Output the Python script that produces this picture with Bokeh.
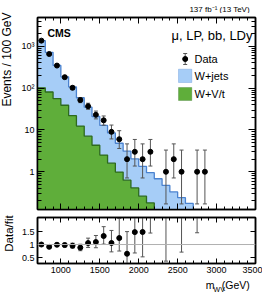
import math
from bokeh.plotting import figure
from bokeh.layouts import column, row
from bokeh.models import (FixedTicker, LinearAxis, LogAxis, Label, BoxAnnotation, Span, Range1d,
                          CustomLabelingPolicy)
from bokeh.embed import file_html
from bokeh.resources import INLINE

# ---------------- data ----------------
bin_lo = [700, 800, 900, 1000, 1100, 1200, 1300, 1400, 1500, 1600, 1700,
          1800, 1900, 2000, 2100, 2200, 2300, 2400, 2500, 2600, 2700, 2800]
bin_width = 100
data_counts = [1370, 656, 347, 183, 102, 52, 37, 23, 17, 9, 6,
               2, 3, 2, 3, 0, 1, 2, 1, 0, 1, 1]
data_err_lo = [36.5, 25.1, 18.1, 13.0, 9.6, 7.0, 5.9, 4.6, 4.0, 2.9, 2.4,
               1.29, 1.63, 1.29, 1.63, 0.0, 0.83, 1.29, 0.83, 0.0, 0.83, 0.83]
data_err_hi = [37.5, 26.1, 19.1, 14.0, 10.6, 7.7, 6.6, 5.3, 4.6, 4.1, 3.6,
               2.64, 2.92, 2.64, 2.92, 0.0, 2.30, 2.64, 2.30, 0.0, 2.30, 2.30]
fit_total = [1370, 720, 350, 187, 107, 59, 35, 21, 12.8, 8.5, 4.8,
             3.1, 2.03, 1.35, 0.95, 0.68, 0.47, 0.33, 0.24, 0.175, 0.117, 0.08]
fit_wvt = [102, 81, 56, 39, 22, 12.4, 7.1, 4.3, 2.5, 1.6, 0.98,
           0.63, 0.41, 0.26, 0.18, 0.11, 0.07, 0.045, 0.03, 0.02, 0.013, 0.009]

x_ticks = [1000, 1500, 2000, 2500, 3000, 3500]
y_ticks = [1, 10, 100, 1000]
y_tick_labels = {1: "1", 10: "10", 100: "10\u00b2", 1000: "10\u00b3"}
r_ticks = [0.5, 1, 1.5]
r_tick_labels = {0.5: "0.5", 1: "1", 1.5: "1.5"}

# ---------------- style ----------------
FONT = "Liberation Sans"
BLUE = "#a6cdf7"
BLUE_LINE = "#4a82cf"
GREEN = "#5fae3a"
GREEN_LINE = "#2d6a1e"
ERR = "#555555"

X0, X1 = 700, 3500
Y0, Y1 = 0.125, 4900
R0, R1 = 0.27, 2.04
FL, FR, FT, FB = 37, 255, 15, 207   # top frame (page px)
BT, BB = 213, 259                   # ratio frame (page px)
LW = 15                             # left text strip width
TH = 13                             # top text strip height
BOT_BORDER = 15                     # space under the ratio frame for tick labels
PAGE_H = 300

bin_hi = [b + bin_width for b in bin_lo]
centers = [b + bin_width / 2 for b in bin_lo]
edges = bin_lo + [bin_hi[-1]]

x_minor = list(range(700, 3501, 100))
y_minor = [k * 10.0 ** e for e in range(-1, 4) for k in range(2, 10) if k * 10.0 ** e < Y1]

NO_LABELS = CustomLabelingPolicy(code="""
for (const i of indices) { indices.unset(i) }
return indices
""")


def style_axis(ax, labels, tick_in, minor_in, size="9px"):
    ax.major_tick_in = tick_in
    ax.major_tick_out = 0
    ax.minor_tick_in = minor_in
    ax.minor_tick_out = 0
    ax.axis_line_color = "black"
    ax.axis_line_width = 1.5
    ax.major_tick_line_color = "black"
    ax.minor_tick_line_color = "black"
    if labels:
        ax.major_label_text_font = FONT
        ax.major_label_text_font_size = size
        ax.major_label_text_color = "black"
    else:
        ax.major_label_text_font_size = "1px"
        ax.major_label_standoff = 0
        ax.major_label_policy = NO_LABELS


def strip(w, h):
    f = figure(width=w, height=h, x_range=Range1d(0, w), y_range=Range1d(0, h),
               title=None, min_border=0, x_axis_location=None, y_axis_location=None,
               output_backend="svg", toolbar_location=None)
    f.grid.visible = False
    f.outline_line_color = None
    return f


def strip_text(f, text, x, y, size, align="left", baseline="middle", angle=0.0):
    f.add_layout(Label(x=x, y=y, text=text, text_font=FONT, text_font_size=size,
                       text_align=align, text_baseline=baseline, angle=angle,
                       text_color="black"))


def add_text(fig, fl, fb, text, X, Y, size, align="left", baseline="middle",
             angle=0.0, style="normal"):
    fig.add_layout(Label(x=X - fl, y=fb - Y, x_units="screen", y_units="screen",
                         text=text, text_font=FONT, text_font_size=size,
                         text_align=align, text_baseline=baseline, angle=angle,
                         text_font_style=style, text_color="black"))


# ---------------- top panel ----------------
top = figure(frame_width=FR - FL, frame_height=FB - FT,
             x_range=Range1d(X0, X1), y_range=Range1d(Y0, Y1),
             y_axis_type="log", x_axis_location=None, title=None,
             min_border_left=FL - LW, min_border_right=7, min_border_top=FT - TH,
             min_border_bottom=BT - FB - 3,
             output_backend="svg", toolbar_location=None)
top.grid.visible = False
top.outline_line_color = "black"
top.outline_line_width = 1.5

yt = FixedTicker(ticks=y_ticks, minor_ticks=y_minor)
ax = top.yaxis[0]
ax.ticker = yt
ax.major_label_overrides = y_tick_labels
ax.major_label_standoff = 3
style_axis(ax, True, 7, 4)
ax_r = LogAxis(ticker=yt)
style_axis(ax_r, False, 7, 4)
top.add_layout(ax_r, "right")
xt = FixedTicker(ticks=x_ticks, minor_ticks=x_minor)
for loc in ("below", "above"):
    a = LinearAxis(ticker=xt)
    style_axis(a, False, 6, 3)
    top.add_layout(a, loc)

floor = [1e-3] * len(edges)
top.varea_step(x=edges, y1=floor, y2=fit_total + [fit_total[-1]], step_mode="after",
               fill_color=BLUE)
top.step(x=edges, y=fit_total + [fit_total[-1]], mode="after",
         line_color=BLUE_LINE, line_width=1.3)
top.varea_step(x=edges, y1=floor, y2=fit_wvt + [fit_wvt[-1]], step_mode="after",
               fill_color=GREEN)
top.step(x=edges, y=fit_wvt + [fit_wvt[-1]], mode="after",
         line_color=GREEN_LINE, line_width=1.3)

idx = [i for i, n in enumerate(data_counts) if n > 0]
dx = [centers[i] for i in idx]
dy = [data_counts[i] for i in idx]
dlo = [data_counts[i] - data_err_lo[i] for i in idx]
dhi = [data_counts[i] + data_err_hi[i] for i in idx]
top.segment(x0=dx, y0=dlo, x1=dx, y1=dhi, line_color=ERR, line_width=1)
top.scatter(x=dx + dx, y=dlo + dhi, marker="dash", size=4, line_color=ERR, line_width=1)
top.scatter(x=dx, y=dy, marker="circle", size=5, fill_color="black", line_color="black")


def px_to_x(px):
    return X0 + (px - FL) / (FR - FL) * (X1 - X0)


def py_to_y(py):
    l0, l1 = math.log10(Y0), math.log10(Y1)
    return 10 ** (l0 + (FB - py) / (FB - FT) * (l1 - l0))


# legend (layout positions in page px)
lx = px_to_x(184.7)
top.segment(x0=[lx], y0=[py_to_y(62)], x1=[lx], y1=[py_to_y(51)], line_color=ERR, line_width=1)
top.scatter(x=[lx, lx], y=[py_to_y(62), py_to_y(51)], marker="dash", size=4, line_color=ERR)
top.scatter(x=[lx], y=[py_to_y(56.5)], marker="circle", size=5, fill_color="black", line_color="black")

for (yt_, yb_, fc, lc) in ((66.7, 80, BLUE, BLUE_LINE), (85, 98, GREEN, GREEN_LINE)):
    top.add_layout(BoxAnnotation(left=178 - FL, right=191.3 - FL, top=FB - yt_, bottom=FB - yb_,
                                 left_units="screen", right_units="screen",
                                 top_units="screen", bottom_units="screen",
                                 fill_color=fc, fill_alpha=1, line_color=lc, line_width=1))

add_text(top, FL, FB, "Data", 194, 56.5, "11px")
add_text(top, FL, FB, "W+jets", 194, 73.3, "11px")
add_text(top, FL, FB, "W+V/t", 194, 91.7, "11px")
add_text(top, FL, FB, "CMS", 47, 30.5, "10.5px", style="bold")
add_text(top, FL, FB, "\u03bc, LP, bb, LDy", 252, 32.5, "13px", align="right")

# ---------------- ratio panel ----------------
bot = figure(frame_width=FR - FL, frame_height=BB - BT,
             x_range=top.x_range, y_range=Range1d(R0, R1),
             x_axis_location=None, title=None,
             min_border_left=FL - LW, min_border_right=7, min_border_top=3,
             min_border_bottom=BOT_BORDER,
             output_backend="svg", toolbar_location=None)
bot.grid.visible = False
bot.outline_line_color = "black"
bot.outline_line_width = 1.5
rt = FixedTicker(ticks=r_ticks, minor_ticks=[])
ax = bot.yaxis[0]
ax.ticker = rt
ax.major_label_overrides = r_tick_labels
ax.major_label_standoff = 3
style_axis(ax, True, 5, 0)
a = LinearAxis(ticker=rt)
style_axis(a, False, 5, 0)
bot.add_layout(a, "right")
xb = LinearAxis(ticker=xt)
style_axis(xb, True, 5, 3)
xb.major_label_standoff = 3
bot.add_layout(xb, "below")
xa = LinearAxis(ticker=xt)
style_axis(xa, False, 5, 3)
bot.add_layout(xa, "above")

bot.add_layout(Span(location=1, dimension="width", line_color="#b0b0b0", line_width=1))

rx = dx
ry = [data_counts[i] / fit_total[i] for i in idx]
rlo = [(data_counts[i] - data_err_lo[i]) / fit_total[i] for i in idx]
rhi = [(data_counts[i] + data_err_hi[i]) / fit_total[i] for i in idx]
bot.segment(x0=rx, y0=rlo, x1=rx, y1=rhi, line_color=ERR, line_width=1)
bot.scatter(x=rx + rx, y=rlo + rhi, marker="dash", size=4, line_color=ERR)
bot.scatter(x=rx, y=ry, marker="circle", size=5, fill_color="black", line_color="black")

# ---------------- text strips outside the frames ----------------
main_w = FR + 7 - LW
bot_end = BB + BOT_BORDER
BH = PAGE_H - bot_end
top_strip = strip(main_w, TH)
strip_text(top_strip, "137 fb\u207b\u00b9 (13 TeV)", 255.5 - LW, TH - 8.5, "8px", align="right")

bottom_strip = strip(main_w, BH)
strip_text(bottom_strip, "m", 205.5 - LW, BH - (280.5 - bot_end), "10.5px")
strip_text(bottom_strip, "WV", 214.5 - LW, BH - (284.5 - bot_end), "7px")
strip_text(bottom_strip, "(GeV)", 255.5 - LW, BH - (280.5 - bot_end), "10.5px", align="right")

left_strip = strip(LW, PAGE_H)
strip_text(left_strip, "Events / 100 GeV", 6.5, PAGE_H - 12, "12px", align="right",
           angle=math.pi / 2)
strip_text(left_strip, "Data/fit", 8, PAGE_H - 233, "11.5px", align="center",
           angle=math.pi / 2)

layout = row(left_strip, column(top_strip, top, bot, bottom_strip, spacing=0), spacing=0)
open("out.html", "w").write(file_html(layout, INLINE))
